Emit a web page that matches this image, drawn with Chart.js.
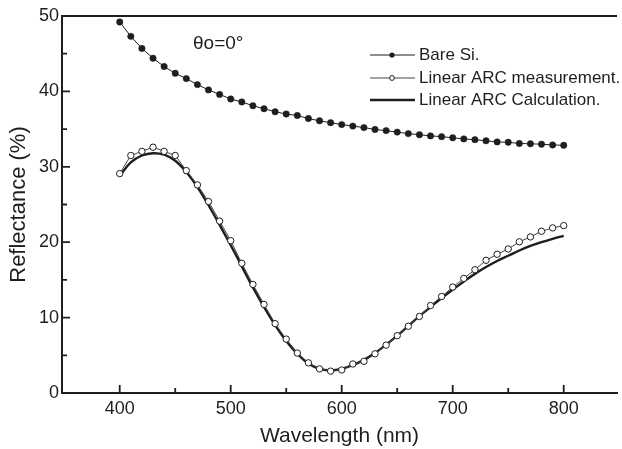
<!DOCTYPE html>
<html>
<head>
<meta charset="utf-8">
<script src="https://cdn.jsdelivr.net/npm/chart.js@4.4.1/dist/chart.umd.min.js"></script>
<style>
  html, body { margin: 0; padding: 0; background: #fff; overflow: hidden; }
  #wrap { width: 622px; height: 449px; }
</style>
</head>
<body>
<div id="wrap"><canvas id="ReflectancePlot"></canvas></div>
<script>
// wavelengths (nm), one sample every 10 nm
const wavelength = [400, 410, 420, 430, 440, 450, 460, 470, 480, 490,
  500, 510, 520, 530, 540, 550, 560, 570, 580, 590,
  600, 610, 620, 630, 640, 650, 660, 670, 680, 690,
  700, 710, 720, 730, 740, 750, 760, 770, 780, 790, 800];

const bareSi = [49.2, 47.3, 45.7, 44.4, 43.3, 42.4, 41.7, 40.9, 40.2, 39.6,
  39.0, 38.6, 38.1, 37.7, 37.3, 37.0, 36.8, 36.4, 36.1, 35.85,
  35.6, 35.4, 35.2, 34.95, 34.8, 34.6, 34.4, 34.25, 34.1, 34.0,
  33.85, 33.7, 33.6, 33.45, 33.3, 33.25, 33.1, 33.05, 33.0, 32.9, 32.85];

const arcMeasured = [29.1, 31.5, 32.05, 32.6, 32.05, 31.5, 29.5, 27.6, 25.4, 22.8,
  20.2, 17.2, 14.4, 11.75, 9.2, 7.15, 5.3, 4.0, 3.2, 2.9,
  3.05, 3.85, 4.2, 5.2, 6.35, 7.6, 8.85, 10.15, 11.6, 12.8,
  14.05, 15.2, 16.35, 17.6, 18.4, 19.1, 20.05, 20.7, 21.45, 21.9, 22.2];

const arcCalculated = [28.8, 30.6, 31.5, 31.8, 31.6, 30.8, 29.3, 27.3, 24.9, 22.3,
  19.6, 16.8, 14.0, 11.4, 9.0, 6.9, 5.2, 3.9, 3.2, 3.0,
  3.2, 3.7, 4.4, 5.3, 6.4, 7.6, 8.9, 10.2, 11.4, 12.6,
  13.7, 14.8, 15.8, 16.7, 17.5, 18.2, 18.9, 19.5, 20.0, 20.45, 20.85];

const xMajor = [400, 500, 600, 700, 800];
const xMinor = [450, 550, 650, 750];
const yMajor = [0, 10, 20, 30, 40, 50];
const yMinor = [5, 15, 25, 35, 45];

const seriesNames = ["Bare Si.", "Linear ARC measurement.", "Linear ARC Calculation."];
const angleNote = "\u03B8o=0\u00B0";

const ink = "#1e1e1e";
const fontFamily = "'Liberation Sans', Arial, sans-serif";

const toPoints = (ys) => wavelength.map((x, i) => ({ x: x, y: ys[i] }));

// inward tick marks, top frame line, legend and angle note
const framePlugin = {
  id: "frame",
  afterDraw(chart) {
    const ctx = chart.ctx;
    const area = chart.chartArea;
    const xs = chart.scales.x;
    const ys = chart.scales.y;
    ctx.save();
    ctx.strokeStyle = ink;
    ctx.lineWidth = 1.8;
    ctx.beginPath();
    ctx.moveTo(area.left, area.top);
    ctx.lineTo(area.right, area.top);
    xMajor.forEach(v => {
      const p = xs.getPixelForValue(v);
      ctx.moveTo(p, area.bottom);
      ctx.lineTo(p, area.bottom - 8);
    });
    xMinor.forEach(v => {
      const p = xs.getPixelForValue(v);
      ctx.moveTo(p, area.bottom);
      ctx.lineTo(p, area.bottom - 5);
    });
    yMajor.forEach(v => {
      const p = ys.getPixelForValue(v);
      ctx.moveTo(area.left, p);
      ctx.lineTo(area.left + 8, p);
    });
    yMinor.forEach(v => {
      const p = ys.getPixelForValue(v);
      ctx.moveTo(area.left, p);
      ctx.lineTo(area.left + 5, p);
    });
    ctx.stroke();

    // legend
    const rows = [55, 78, 100];
    ctx.font = "17px " + fontFamily;
    ctx.textBaseline = "middle";
    rows.forEach((y, i) => {
      const ds = chart.data.datasets[i];
      ctx.beginPath();
      ctx.strokeStyle = ds.borderColor;
      ctx.lineWidth = ds.borderWidth;
      ctx.moveTo(370, y);
      ctx.lineTo(415, y);
      ctx.stroke();
      if (i === 0) {
        ctx.beginPath();
        ctx.fillStyle = ink;
        ctx.arc(392, y, 2.6, 0, Math.PI * 2);
        ctx.fill();
      } else if (i === 1) {
        ctx.beginPath();
        ctx.fillStyle = "#fff";
        ctx.strokeStyle = ink;
        ctx.lineWidth = 1;
        ctx.arc(392, y, 2.4, 0, Math.PI * 2);
        ctx.fill();
        ctx.stroke();
      }
      ctx.fillStyle = ink;
      ctx.fillText(seriesNames[i], 419, y);
    });

    ctx.font = "19px " + fontFamily;
    ctx.fillText(angleNote, 193, 44);
    ctx.restore();
  }
};

const ctx = document.getElementById("ReflectancePlot").getContext("2d");
new Chart(ctx, {
  type: "line",
  data: {
    datasets: [
      {
        label: seriesNames[0],
        data: toPoints(bareSi),
        borderColor: ink,
        borderWidth: 1,
        pointRadius: 3.2,
        pointBackgroundColor: ink,
        pointBorderColor: ink,
        pointBorderWidth: 0.5,
        tension: 0,
        order: 1
      },
      {
        label: seriesNames[1],
        data: toPoints(arcMeasured),
        borderColor: "#444",
        borderWidth: 1,
        pointRadius: 3.2,
        pointBackgroundColor: "#fff",
        pointBorderColor: ink,
        pointBorderWidth: 1,
        tension: 0,
        order: 1
      },
      {
        label: seriesNames[2],
        data: toPoints(arcCalculated),
        borderColor: ink,
        borderWidth: 2.4,
        pointRadius: 0,
        tension: 0.4,
        order: 3
      }
    ]
  },
  options: {
    responsive: true,
    maintainAspectRatio: false,
    animation: false,
    layout: { padding: { top: 16, right: 0, left: 0, bottom: 0 } },
    plugins: {
      legend: { display: false },
      tooltip: { enabled: false }
    },
    scales: {
      x: {
        type: "linear",
        min: 348,
        max: 848,
        afterBuildTicks: (scale) => { scale.ticks = xMajor.map(v => ({ value: v })); },
        afterFit: (scale) => { scale.height = 56; },
        grid: { display: false, drawTicks: false },
        border: { display: true, color: ink, width: 2 },
        ticks: {
          color: ink,
          padding: 5,
          maxRotation: 0,
          font: { family: fontFamily, size: 18 }
        },
        title: {
          display: true,
          text: "Wavelength (nm)",
          color: ink,
          padding: { top: 8, bottom: 0 },
          font: { family: fontFamily, size: 21 }
        }
      },
      y: {
        type: "linear",
        min: 0,
        max: 50,
        afterBuildTicks: (scale) => { scale.ticks = yMajor.map(v => ({ value: v })); },
        afterFit: (scale) => { scale.width = 62; },
        grid: { display: false, drawTicks: false },
        border: { display: true, color: ink, width: 2 },
        ticks: {
          color: ink,
          padding: 3,
          font: { family: fontFamily, size: 18 }
        },
        title: {
          display: true,
          text: "Reflectance (%)",
          color: ink,
          padding: { top: 6, bottom: 0 },
          font: { family: fontFamily, size: 22 }
        }
      }
    }
  },
  plugins: [framePlugin]
});
</script>
</body>
</html>
